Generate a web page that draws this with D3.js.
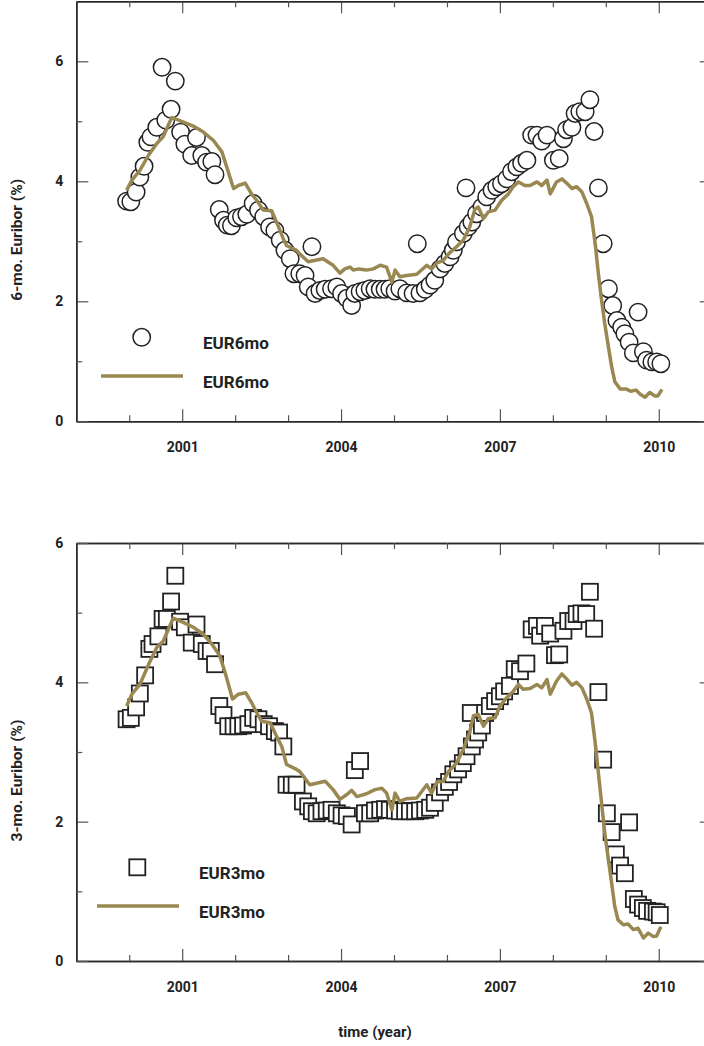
<!DOCTYPE html>
<html>
<head>
<meta charset="utf-8">
<script src="https://cdn.jsdelivr.net/npm/d3@7"></script>
<style>
  body { margin: 0; background: #fff; }
  svg { display: block; }
  .tick text { font-family: Roboto, "Liberation Sans", sans-serif; font-weight: 700; font-size: 14px; fill: #222; }
  .lab { font-family: Roboto, "Liberation Sans", sans-serif; font-weight: 700; fill: #222; }
</style>
</head>
<body>
<svg id="chart" width="704" height="1046"></svg>
<script>
// EUR6mo – points (decimal year, %)
var t6pts = [1999.95,2000.03,2000.13,2000.20,2000.28,2000.35,2000.41,2000.52,2000.62,2000.69,2000.79,2000.87,2000.97,2001.05,2001.18,2001.27,2001.37,2001.46,2001.56,2001.62,2001.70,2001.78,2001.85,2001.93,2002.03,2002.12,2002.22,2002.34,2002.44,2002.54,2002.65,2002.75,2002.85,2002.94,2003.04,2003.11,2003.22,2003.32,2003.38,2003.45,2003.51,2003.60,2003.70,2003.82,2003.92,2004.01,2004.11,2004.20,2004.26,2004.36,2004.45,2004.55,2004.64,2004.74,2004.83,2004.92,2005.02,2005.11,2005.24,2005.36,2005.44,2005.49,2005.59,2005.68,2005.77,2005.87,2005.96,2006.06,2006.12,2006.18,2006.31,2006.36,2006.40,2006.47,2006.56,2006.66,2006.75,2006.85,2006.94,2007.03,2007.13,2007.22,2007.32,2007.41,2007.51,2007.60,2007.70,2007.79,2007.89,2008.01,2008.12,2008.20,2008.26,2008.36,2008.42,2008.51,2008.61,2008.70,2008.78,2008.86,2008.95,2009.05,2009.13,2009.21,2009.30,2009.36,2009.44,2009.52,2009.61,2009.71,2009.77,2009.87,2009.96,2010.04];
var v6pts = [3.67,3.66,3.82,4.07,4.25,4.65,4.74,4.90,5.90,5.02,5.20,5.67,4.82,4.62,4.43,4.73,4.43,4.32,4.33,4.11,3.53,3.35,3.27,3.26,3.39,3.41,3.45,3.63,3.52,3.41,3.24,3.18,3.02,2.85,2.71,2.46,2.46,2.43,2.24,2.91,2.13,2.18,2.20,2.21,2.24,2.13,2.05,1.93,2.13,2.16,2.18,2.21,2.20,2.20,2.20,2.21,2.17,2.21,2.14,2.13,2.96,2.14,2.20,2.27,2.35,2.54,2.63,2.74,2.85,2.99,3.13,3.89,3.24,3.32,3.46,3.57,3.74,3.85,3.91,3.96,4.04,4.16,4.24,4.30,4.35,4.77,4.77,4.67,4.77,4.35,4.38,4.71,4.86,4.90,5.13,5.16,5.16,5.36,4.83,3.89,2.96,2.21,1.93,1.68,1.57,1.46,1.32,1.14,1.82,1.16,1.02,0.99,0.99,0.96];

// EUR6mo – line
var t6line = [1999.95,2000.05,2000.20,2000.36,2000.52,2000.64,2000.80,2000.93,2001.21,2001.40,2001.59,2001.75,2001.84,2001.97,2002.06,2002.19,2002.31,2002.41,2002.53,2002.69,2002.82,2002.91,2002.97,2003.16,2003.22,2003.38,2003.66,2003.85,2003.98,2004.07,2004.17,2004.23,2004.33,2004.48,2004.61,2004.74,2004.86,2004.96,2005.02,2005.11,2005.24,2005.43,2005.62,2005.71,2005.81,2005.93,2006.03,2006.18,2006.31,2006.43,2006.53,2006.59,2006.69,2006.78,2006.91,2007.03,2007.16,2007.25,2007.35,2007.47,2007.57,2007.70,2007.79,2007.89,2007.95,2008.07,2008.17,2008.26,2008.36,2008.45,2008.55,2008.64,2008.73,2008.80,2008.86,2008.92,2008.98,2009.05,2009.11,2009.17,2009.27,2009.38,2009.47,2009.57,2009.65,2009.74,2009.83,2009.93,2009.98,2010.06];
var v6line = [3.85,4.02,4.18,4.43,4.63,4.74,5.06,5.02,4.92,4.82,4.68,4.49,4.24,3.88,3.93,3.97,3.79,3.68,3.52,3.51,3.24,3.04,2.93,2.85,2.79,2.66,2.71,2.60,2.47,2.54,2.57,2.52,2.54,2.52,2.54,2.60,2.57,2.32,2.52,2.41,2.43,2.45,2.60,2.54,2.64,2.68,2.79,2.91,3.02,3.24,3.54,3.57,3.38,3.49,3.52,3.68,3.79,3.91,3.99,3.93,3.93,3.99,3.93,4.02,3.79,3.99,4.04,3.97,3.88,3.91,3.82,3.63,3.41,2.96,2.46,2.02,1.63,1.24,0.91,0.66,0.54,0.54,0.50,0.52,0.45,0.40,0.48,0.42,0.42,0.53];

// EUR3mo – points
var t3pts = [1999.95,2000.03,2000.13,2000.20,2000.30,2000.38,2000.44,2000.55,2000.63,2000.71,2000.79,2000.87,2000.96,2001.05,2001.18,2001.27,2001.37,2001.46,2001.54,2001.62,2001.70,2001.78,2001.87,2001.97,2002.06,2002.15,2002.25,2002.34,2002.44,2002.54,2002.64,2002.75,2002.83,2002.91,2002.97,2003.07,2003.16,2003.28,2003.38,2003.45,2003.54,2003.63,2003.73,2003.82,2003.92,2004.01,2004.11,2004.20,2004.26,2004.36,2004.45,2004.55,2004.64,2004.74,2004.83,2004.92,2005.02,2005.11,2005.21,2005.30,2005.40,2005.49,2005.59,2005.68,2005.77,2005.87,2005.96,2006.04,2006.12,2006.21,2006.30,2006.37,2006.45,2006.47,2006.53,2006.59,2006.66,2006.72,2006.81,2006.91,2007.00,2007.08,2007.19,2007.28,2007.38,2007.50,2007.60,2007.70,2007.76,2007.85,2007.95,2008.04,2008.12,2008.20,2008.29,2008.39,2008.45,2008.54,2008.63,2008.70,2008.78,2008.86,2008.95,2009.02,2009.11,2009.19,2009.27,2009.36,2009.44,2009.53,2009.61,2009.70,2009.78,2009.89,2009.96,2010.02];
var v3pts = [3.47,3.49,3.64,3.84,4.10,4.48,4.55,4.66,4.91,4.91,5.16,5.53,4.87,4.79,4.57,4.83,4.55,4.45,4.45,4.26,3.66,3.53,3.37,3.37,3.37,3.38,3.40,3.49,3.47,3.40,3.37,3.30,3.28,3.08,2.53,2.53,2.53,2.29,2.22,2.15,2.12,2.15,2.16,2.17,2.12,2.09,2.08,1.96,2.74,2.87,2.12,2.12,2.16,2.17,2.18,2.17,2.16,2.15,2.15,2.15,2.15,2.16,2.17,2.20,2.27,2.42,2.50,2.57,2.68,2.75,2.84,2.94,3.56,3.08,3.18,3.28,3.38,3.56,3.66,3.73,3.80,3.87,3.95,4.19,4.16,4.27,4.76,4.81,4.67,4.81,4.70,4.39,4.40,4.74,4.88,4.88,4.98,4.99,4.98,5.30,4.77,3.86,2.89,2.12,1.85,1.53,1.37,1.26,1.99,0.89,0.81,0.76,0.72,0.71,0.70,0.66];

// EUR3mo – line
var t3line = [1999.95,2000.05,2000.20,2000.38,2000.52,2000.64,2000.83,2001.02,2001.21,2001.40,2001.56,2001.71,2001.81,2001.95,2002.06,2002.20,2002.31,2002.41,2002.50,2002.66,2002.78,2002.88,2002.97,2003.16,2003.22,2003.41,2003.70,2003.85,2003.98,2004.11,2004.20,2004.30,2004.48,2004.64,2004.77,2004.86,2004.96,2005.02,2005.11,2005.24,2005.43,2005.62,2005.71,2005.81,2005.93,2006.03,2006.18,2006.31,2006.43,2006.50,2006.59,2006.69,2006.78,2006.91,2007.00,2007.13,2007.25,2007.35,2007.44,2007.57,2007.70,2007.79,2007.89,2007.95,2008.07,2008.17,2008.26,2008.36,2008.45,2008.55,2008.64,2008.73,2008.80,2008.86,2008.92,2008.98,2009.05,2009.11,2009.17,2009.23,2009.33,2009.42,2009.52,2009.61,2009.71,2009.80,2009.90,2009.96,2010.04];
var v3line = [3.66,3.83,3.97,4.28,4.50,4.59,4.92,4.86,4.79,4.69,4.55,4.38,4.14,3.76,3.83,3.85,3.71,3.56,3.44,3.42,3.23,3.08,2.82,2.75,2.72,2.53,2.58,2.46,2.32,2.39,2.45,2.36,2.40,2.46,2.48,2.41,2.17,2.41,2.29,2.33,2.34,2.53,2.41,2.57,2.58,2.72,2.84,3.04,3.28,3.52,3.54,3.37,3.48,3.49,3.66,3.78,3.87,3.97,3.90,3.91,3.97,3.92,4.04,3.83,4.02,4.12,4.05,3.96,4.00,3.92,3.76,3.56,3.13,2.70,2.27,1.84,1.45,1.12,0.78,0.59,0.52,0.53,0.45,0.47,0.33,0.40,0.35,0.36,0.49];

var yearsMajor = [2001, 2004, 2007, 2010];
var yearsMinor = [2000, 2002, 2003, 2005, 2006, 2008, 2009];
var yMajor = [0, 2, 4, 6];
var yMinor = [1, 3, 5];

var lineColor = "#9a8852";
var svg = d3.select("#chart");

var x = d3.scaleLinear().domain([1999, 2011]).range([76.3, 711.7]);

function panel(cfg) {
  var y = d3.scaleLinear().domain([0, cfg.ymax]).range([cfg.bottom, cfg.top]);
  var g = svg.append("g");

  // axes: major + minor ticks, pointing inward
  function ax(gen, vals, size, tx, ty, labels) {
    var a = gen.tickValues(vals).tickSizeInner(-size).tickSizeOuter(0);
    if (labels) a.tickFormat(d3.format("d")); else a.tickFormat("");
    var s = g.append("g").attr("transform", "translate(" + tx + "," + ty + ")").call(a);
    s.select(".domain").attr("stroke", "#2a2a2a").attr("stroke-width", 1.5);
    s.selectAll(".tick line").attr("stroke", "#555").attr("stroke-width", 1.2);
    return s;
  }
  ax(d3.axisBottom(x).tickPadding(21), yearsMajor, 12, 0, cfg.bottom, true);
  ax(d3.axisBottom(x), yearsMinor, 6, 0, cfg.bottom, false);
  ax(d3.axisTop(x), yearsMajor, 12, 0, cfg.top, false);
  ax(d3.axisTop(x), yearsMinor, 6, 0, cfg.top, false);
  ax(d3.axisLeft(y).tickPadding(13), yMajor, 12, x(1999), 0, true);
  ax(d3.axisLeft(y), yMinor, 6, x(1999), 0, false);
  ax(d3.axisRight(y), yMajor, 12, x(2011), 0, false);
  ax(d3.axisRight(y), yMinor, 6, x(2011), 0, false);

  // points
  var pts = cfg.t.map(function (d, i) { return [d, cfg.v[i]]; });
  if (cfg.shape === "circle") {
    g.selectAll("circle.p").data(pts).enter().append("circle")
      .attr("cx", function (d) { return x(d[0]); })
      .attr("cy", function (d) { return y(d[1]); })
      .attr("r", 8.7)
      .attr("fill", "#fff").attr("stroke", "#222").attr("stroke-width", 1.5);
  } else {
    g.selectAll("rect.p").data(pts).enter().append("rect")
      .attr("x", function (d) { return x(d[0]) - 8; })
      .attr("y", function (d) { return y(d[1]) - 8; })
      .attr("width", 16).attr("height", 16)
      .attr("fill", "#fff").attr("stroke", "#222").attr("stroke-width", 1.8);
  }

  // line
  var ln = cfg.lt.map(function (d, i) { return [d, cfg.lv[i]]; });
  g.append("path").datum(ln)
    .attr("fill", "none").attr("stroke", lineColor).attr("stroke-width", 3.5)
    .attr("stroke-linejoin", "round")
    .attr("d", d3.line().x(function (d) { return x(d[0]); }).y(function (d) { return y(d[1]); }));

  // legend
  var L = cfg.legend;
  if (cfg.shape === "circle") {
    g.append("circle").attr("cx", L.mx).attr("cy", L.my).attr("r", 8.7)
      .attr("fill", "#fff").attr("stroke", "#222").attr("stroke-width", 1.5);
  } else {
    g.append("rect").attr("x", L.mx - 8).attr("y", L.my - 8).attr("width", 16).attr("height", 16)
      .attr("fill", "#fff").attr("stroke", "#222").attr("stroke-width", 1.8);
  }
  g.append("text").attr("class", "lab").attr("x", L.tx).attr("y", L.my + 12)
    .style("font-size", "17px").text(cfg.name);
  g.append("line").attr("x1", L.lx1).attr("x2", L.lx2).attr("y1", L.ly).attr("y2", L.ly)
    .attr("stroke", lineColor).attr("stroke-width", 3.5);
  g.append("text").attr("class", "lab").attr("x", L.tx).attr("y", L.ly + 12)
    .style("font-size", "17px").text(cfg.name);

  // y title
  g.append("text").attr("class", "lab")
    .attr("transform", "translate(" + 22 + "," + ((cfg.top + cfg.bottom) / 2 + 28.5) + ") rotate(-90)")
    .attr("text-anchor", "middle").style("font-size", "15.5px").text(cfg.title);
}

panel({
  top: 1.3, bottom: 421.3, ymax: 7, shape: "circle", name: "EUR6mo", title: "6-mo. Euribor (%)",
  t: t6pts, v: v6pts, lt: t6line, lv: v6line,
  legend: { mx: 141.7, my: 337.3, tx: 203, lx1: 101, lx2: 183, ly: 376 }
});
panel({
  top: 543, bottom: 961, ymax: 6, shape: "square", name: "EUR3mo", title: "3-mo. Euribor (%)",
  t: t3pts, v: v3pts, lt: t3line, lv: v3line,
  legend: { mx: 137.3, my: 867.3, tx: 199, lx1: 97, lx2: 179, ly: 906 }
});

svg.append("text")
  .attr("x", 375).attr("y", 1037).attr("text-anchor", "middle")
  .style("font-family", "Roboto, \"Liberation Sans\", sans-serif")
  .style("font-weight", 700).style("font-size", "15px").style("fill", "#222")
  .text("time (year)");
</script>
</body>
</html>
